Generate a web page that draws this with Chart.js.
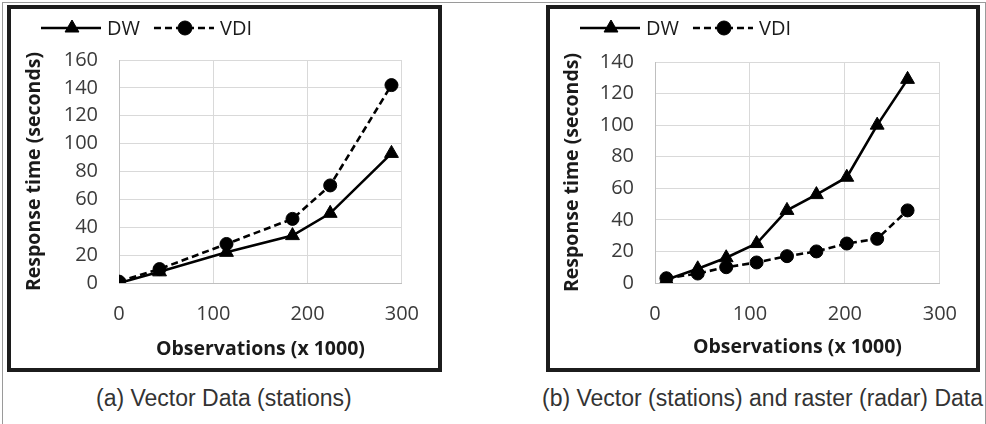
<!DOCTYPE html>
<html>
<head>
<meta charset="utf-8">
<script src="https://cdn.jsdelivr.net/npm/chart.js@4.4.1/dist/chart.umd.min.js"></script>
<style>
  body { margin: 0; background: #fff; width: 986px; height: 424px; overflow: hidden; position: relative; }
  .thin { position: absolute; background: #9a9a9a; }
  .box { position: absolute; top: 5px; height: 359px; border: 4px solid #1c1c1c; }
  .box canvas { position: absolute; left: 0; top: 0; }
  .cap { position: absolute; top: 385px; font-family: "Liberation Sans", Arial, sans-serif; font-size: 23px; color: #333; white-space: nowrap; }
</style>
</head>
<body>
<div class="thin" style="left:2px;top:2px;width:1px;height:422px"></div>
<div class="thin" style="left:2px;top:2px;width:984px;height:1px"></div>
<div class="thin" style="left:985px;top:2px;width:1px;height:422px"></div>

<div class="box" style="left:7px;width:427px"><canvas id="chartA" width="427" height="359"></canvas></div>
<div class="box" style="left:546px;width:426px"><canvas id="chartB" width="426" height="359"></canvas></div>

<div class="cap" style="left:96px">(a) Vector Data (stations)</div>
<div class="cap" style="left:542px">(b) Vector (stations) and raster (radar) Data</div>

<script>
// (a) vector data
const obsA = [0, 43, 114, 184, 224, 289];
const dwA = [0, 8, 22, 34, 50, 93];
const vdiA = [1, 10, 28, 46, 70, 142];

// (b) vector + raster data
const obsB = [12, 45, 75, 107, 139, 170, 202, 234, 266];
const dwB = [2, 9, 16, 25, 46, 56, 67, 100, 129];
const vdiB = [3, 6, 10, 13, 17, 20, 25, 28, 46];

const xTicks = [0, 100, 200, 300];
const seriesNames = ['DW', 'VDI'];

const FONT = '"Open Sans", sans-serif';

function pts(xs, ys) {
    return xs.map((x, i) => ({ x: x, y: ys[i] }));
}

// legend drawn as line + marker, like the original
const lineLegend = {
    id: 'lineLegend',
    afterDraw(chart, args, opts) {
        const ctx = chart.ctx;
        let x = opts.x;
        const y = opts.y;
        ctx.save();
        ctx.font = '20px ' + FONT;
        ctx.textBaseline = 'middle';
        chart.data.datasets.forEach(ds => {
            ctx.strokeStyle = ds.borderColor;
            ctx.lineWidth = ds.borderWidth;
            ctx.setLineDash(ds.borderDash || []);
            ctx.beginPath();
            ctx.moveTo(x, y);
            ctx.lineTo(x + 60, y);
            ctx.stroke();
            ctx.setLineDash([]);
            ctx.fillStyle = ds.pointBackgroundColor;
            ctx.lineWidth = 1;
            Chart.helpers.drawPoint(ctx, {
                pointStyle: ds.pointStyle,
                radius: ds.pointStyle === 'triangle' ? 8 : 7,
                rotation: 0,
                borderWidth: 1
            }, x + 31, y);
            ctx.fillStyle = '#1a1a1a';
            ctx.fillText(ds.label, x + 66, y + 1);
            x += 66 + ctx.measureText(ds.label).width + 14;
        });
        ctx.restore();
    }
};

function makeChart(id, xs, dw, vdi, yMax, yAxisW, padRight, titlePadLeft, titlePadBottom) {
    return new Chart(document.getElementById(id), {
        type: 'scatter',
        data: {
            datasets: [{
                label: seriesNames[0],
                data: pts(xs, dw),
                showLine: true,
                borderColor: '#000',
                borderWidth: 2.6,
                pointStyle: 'triangle',
                pointRadius: 8,
                pointBackgroundColor: '#000',
                pointBorderColor: '#000',
                pointBorderWidth: 1
            }, {
                label: seriesNames[1],
                data: pts(xs, vdi),
                showLine: true,
                borderColor: '#000',
                borderWidth: 2.6,
                borderDash: [7, 4],
                pointStyle: 'circle',
                pointRadius: 6.5,
                pointBackgroundColor: '#000',
                pointBorderColor: '#000',
                pointBorderWidth: 1
            }]
        },
        options: {
            responsive: false,
            animation: false,
            layout: { padding: { left: 0, right: padRight, top: yMax === 160 ? 51 : 53, bottom: 0 } },
            plugins: {
                legend: { display: false },
                tooltip: { enabled: false },
                lineLegend: { x: 30, y: 19 }
            },
            scales: {
                x: {
                    type: 'linear',
                    min: 0, max: 300,
                    afterBuildTicks: s => { s.ticks = xTicks.map(v => ({ value: v })); },
                    afterFit: s => { s.height = 85; },
                    grid: { color: '#d9d9d9', lineWidth: 1, drawTicks: false },
                    border: { color: '#bfbfbf', width: 1 },
                    ticks: { padding: 19, color: '#3a3a3a', font: { family: FONT, size: 20 } },
                    title: {
                        display: true, text: 'Observations (x 1000)', color: '#1a1a1a',
                        font: { family: FONT, size: 19.5, weight: 'bold' },
                        padding: { top: 0, bottom: titlePadBottom }
                    }
                },
                y: {
                    min: 0, max: yMax,
                    ticks: { stepSize: 20, padding: 21, color: '#3a3a3a', font: { family: FONT, size: 20 } },
                    afterFit: s => { s.width = yAxisW; },
                    grid: { color: '#d9d9d9', lineWidth: 1, drawTicks: false },
                    border: { color: '#bfbfbf', width: 1 },
                    title: {
                        display: true, text: 'Response time (seconds)', color: '#1a1a1a',
                        font: { family: FONT, size: 19.5, weight: 'bold' },
                        padding: { top: titlePadLeft, bottom: 0 }
                    }
                }
            }
        },
        plugins: [lineLegend]
    });
}

makeChart('chartA', obsA, dwA, vdiA, 160, 108, 34, 12, 7);
makeChart('chartB', obsB, dwB, vdiB, 140, 105, 35, 11, 9);
</script>
</body>
</html>
